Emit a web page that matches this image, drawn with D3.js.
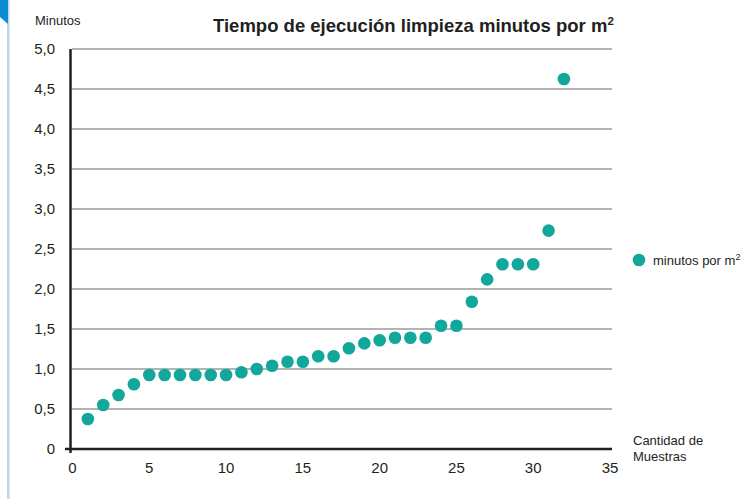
<!DOCTYPE html>
<html>
<head>
<meta charset="utf-8">
<script src="https://cdn.jsdelivr.net/npm/d3@7"></script>
<style>
  body { margin: 0; background: #fff; }
  text { font-family: "Liberation Sans", Arial, sans-serif; fill: #231f20; }
</style>
</head>
<body>
<svg id="chart" width="747" height="499"></svg>
<script>
// muestras (x) y minutos por m2 (y)
var samples = d3.range(1, 33);
var minutes = [0.375, 0.55, 0.675, 0.81, 0.925, 0.925, 0.925, 0.925, 0.925, 0.925,
    0.96, 1.0, 1.04, 1.09, 1.09, 1.16, 1.16, 1.26, 1.32, 1.36,
    1.39, 1.39, 1.39, 1.54, 1.54, 1.84, 2.12, 2.31, 2.31, 2.31,
    2.73, 4.625];
var yTicks = [0, 0.5, 1, 1.5, 2, 2.5, 3, 3.5, 4, 4.5, 5];
var xTicks = [0, 5, 10, 15, 20, 25, 30, 35];
var seriesName = "minutos por m";

var teal = "#12a79b";
var svg = d3.select("#chart");

// decoracion del borde izquierdo
svg.append("rect")
    .attr("x", 7).attr("y", 0).attr("width", 2.5).attr("height", 499)
    .attr("fill", "#bcd6ee");
svg.append("path")
    .attr("d", "M0,0H8V24L0,17Z")
    .attr("fill", "#0a8bd2");

var x = d3.scaleLinear().domain([0, 35]).range([72.5, 610]);
var y = d3.scaleLinear().domain([0, 5]).range([449, 49]);

// lineas de cuadricula
svg.append("g").selectAll("line")
    .data(yTicks.filter(d => d > 0))
  .enter().append("line")
    .attr("x1", 72).attr("x2", 612)
    .attr("y1", d => y(d)).attr("y2", d => y(d))
    .attr("stroke", "#9a9a9a")
    .attr("stroke-width", 1.5);

// ejes
svg.append("line")
    .attr("x1", 65).attr("x2", 612)
    .attr("y1", y(0)).attr("y2", y(0))
    .attr("stroke", "#231f20").attr("stroke-width", 2.5);
svg.append("line")
    .attr("x1", 70.5).attr("x2", 70.5)
    .attr("y1", y(5)).attr("y2", y(0) + 4)
    .attr("stroke", "#231f20").attr("stroke-width", 2.5);

var fmt = d => d === 0 ? "0" : d3.format(".1f")(d).replace(".", ",");

svg.append("g").selectAll("text")
    .data(yTicks)
  .enter().append("text")
    .attr("x", 55)
    .attr("y", d => y(d))
    .attr("dy", "0.35em")
    .attr("text-anchor", "end")
    .style("font-size", "15px")
    .text(fmt);

svg.append("g").selectAll("text")
    .data(xTicks)
  .enter().append("text")
    .attr("x", d => x(d))
    .attr("y", 473)
    .attr("text-anchor", "middle")
    .style("font-size", "15px")
    .text(d => d);

// puntos
svg.append("g").selectAll("circle")
    .data(samples)
  .enter().append("circle")
    .attr("cx", d => x(d))
    .attr("cy", (d, i) => y(minutes[i]))
    .attr("r", 6.3)
    .attr("fill", teal);

// titulos
var title = svg.append("text")
    .attr("x", 213).attr("y", 32)
    .style("font-size", "18.5px")
    .style("font-weight", "bold")
    .text("Tiempo de ejecución limpieza minutos por m");
title.append("tspan")
    .attr("dy", -7)
    .style("font-size", "11.5px")
    .text("2");

svg.append("text")
    .attr("x", 35).attr("y", 25)
    .style("font-size", "13px")
    .text("Minutos");

svg.append("text")
    .attr("x", 633).attr("y", 445)
    .style("font-size", "13px")
    .text("Cantidad de");
svg.append("text")
    .attr("x", 633).attr("y", 461)
    .style("font-size", "13px")
    .text("Muestras");

// leyenda
svg.append("circle")
    .attr("cx", 639).attr("cy", 260).attr("r", 6.3)
    .attr("fill", teal);
var leg = svg.append("text")
    .attr("x", 653).attr("y", 265)
    .style("font-size", "13px")
    .text(seriesName);
leg.append("tspan")
    .attr("dy", -5)
    .style("font-size", "9px")
    .text("2");
</script>
</body>
</html>
